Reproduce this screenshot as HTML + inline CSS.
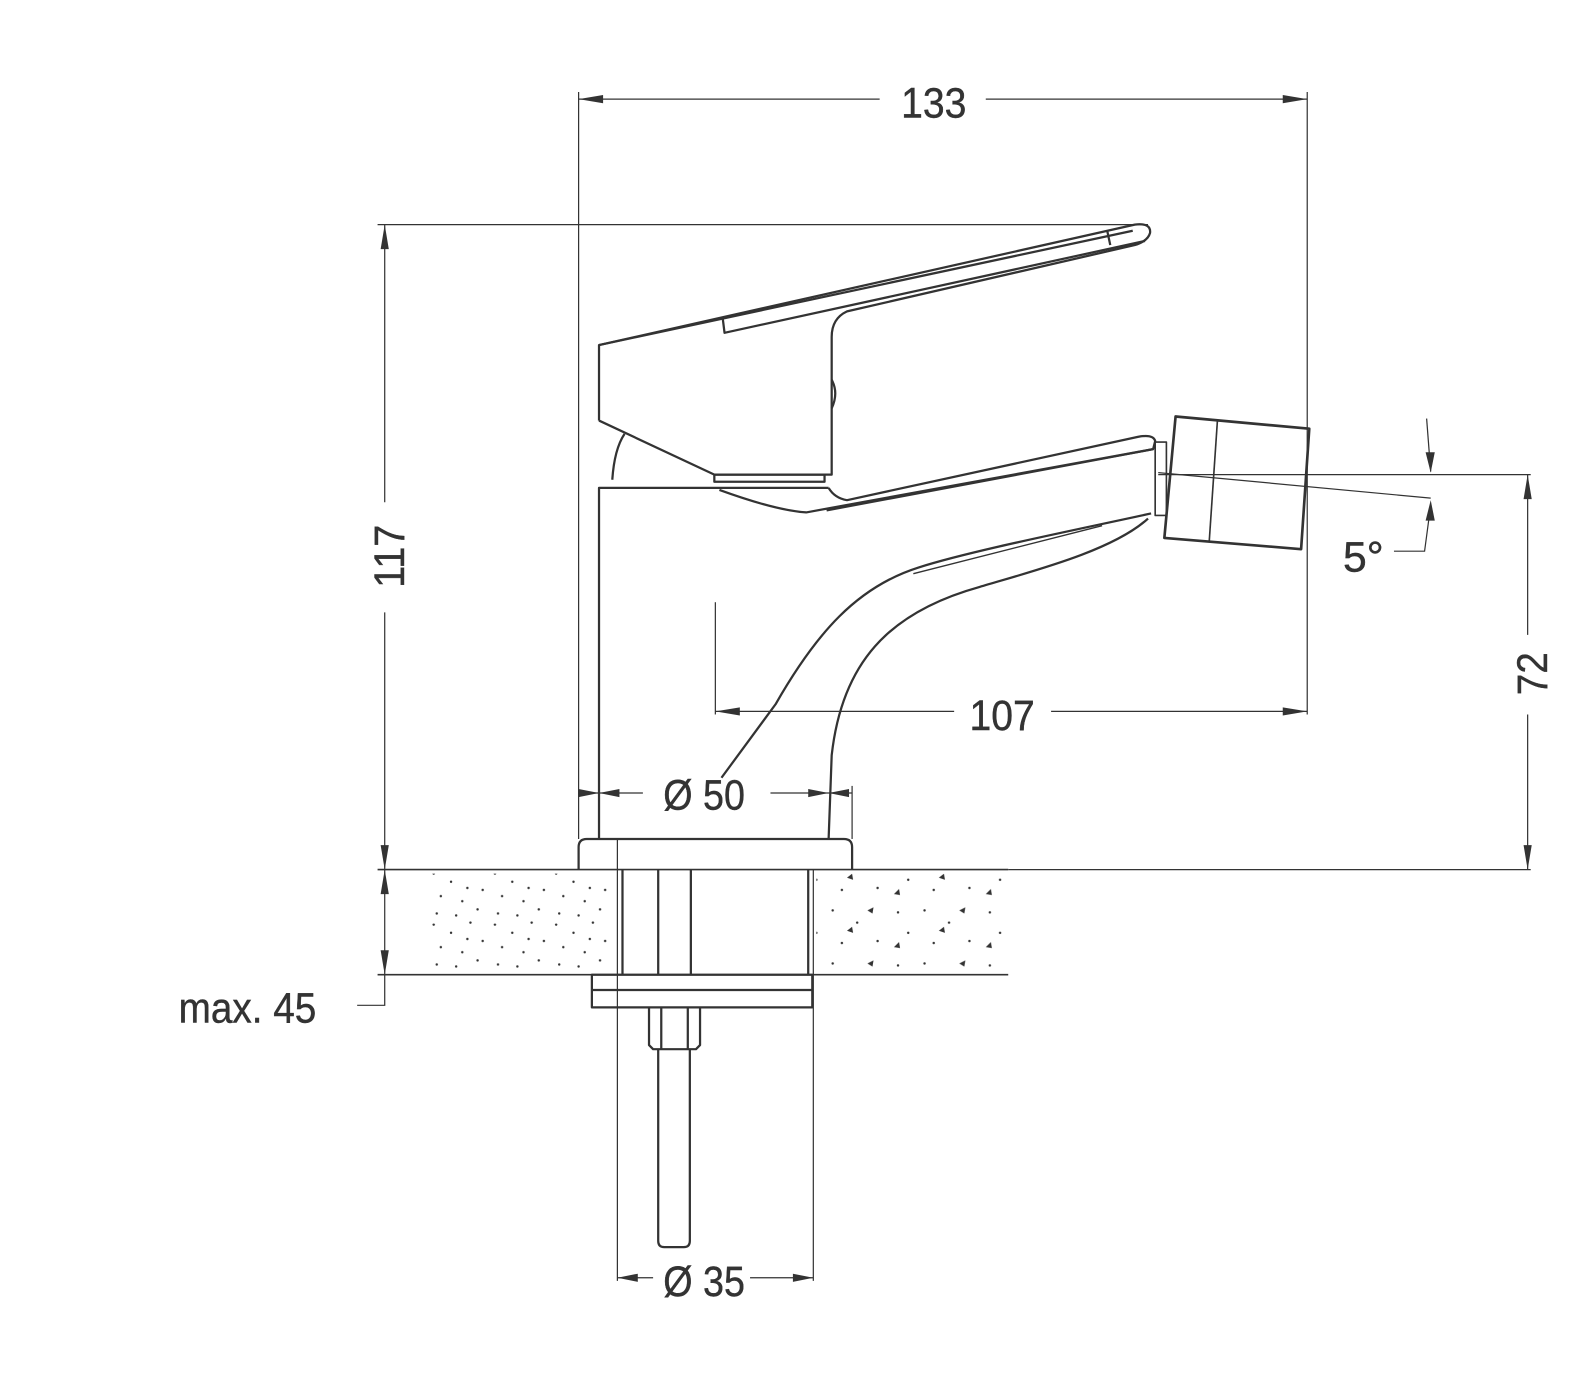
<!DOCTYPE html>
<html><head><meta charset="utf-8"><style>
html,body{margin:0;padding:0;background:#fff;}
svg{display:block;}
text{font-family:"Liberation Sans Narrow","Liberation Sans",sans-serif;fill:#333;stroke:#333;stroke-width:0.4;}
</style></head><body>
<svg width="1595" height="1382" viewBox="0 0 1563 1354" xmlns="http://www.w3.org/2000/svg">
<defs>
<pattern id="dots" width="60" height="50" patternUnits="userSpaceOnUse">
<g fill="#333">
<circle cx="5" cy="6" r="1.2"/><circle cx="22" cy="14" r="1.2"/><circle cx="41" cy="4" r="1.2"/><circle cx="53" cy="22" r="1.2"/>
<circle cx="12" cy="28" r="1.2"/><circle cx="33" cy="33" r="1.2"/><circle cx="48" cy="41" r="1.2"/><circle cx="8" cy="45" r="1.2"/>
<circle cx="27" cy="47" r="1.2"/><circle cx="38" cy="20" r="1.2"/>
</g></pattern>
<pattern id="tri" width="90" height="52" patternUnits="userSpaceOnUse">
<g fill="#333">
<circle cx="6" cy="8" r="1.2"/><circle cx="30" cy="20" r="1.2"/><circle cx="70" cy="10" r="1.2"/><circle cx="50" cy="38" r="1.2"/><circle cx="15" cy="40" r="1.2"/><circle cx="80" cy="30" r="1.2"/>
<path d="M40 8 l6 -3 l-1 6z"/><path d="M20 28 l5 -4 l1 6z"/><path d="M66 44 l5 -5 l1 6z"/>
</g></pattern>
</defs>
<g fill="none" stroke="#333" stroke-width="1.2">
<line x1="567" y1="90" x2="567" y2="822"/>
<line x1="1281" y1="90" x2="1281" y2="700"/>
<line x1="370" y1="220" x2="1125" y2="220"/>
<line x1="835" y1="770" x2="835" y2="822"/>
<line x1="701" y1="590" x2="701" y2="700"/>
<line x1="1135" y1="465" x2="1500" y2="465"/>
<line x1="988" y1="852" x2="1500" y2="852"/>
<line x1="567" y1="97" x2="862" y2="97"/><line x1="966" y1="97" x2="1281" y2="97"/>
<line x1="377" y1="220" x2="377" y2="492"/><line x1="377" y1="600" x2="377" y2="852"/>
<line x1="377" y1="852" x2="377" y2="955"/>
<polyline points="377,955 377,985 350,985"/>
<line x1="1497" y1="465" x2="1497" y2="622"/><line x1="1497" y1="700" x2="1497" y2="852"/>
<line x1="701" y1="697" x2="935" y2="697"/><line x1="1030" y1="697" x2="1281" y2="697"/>
<line x1="567" y1="777" x2="630" y2="777"/><line x1="755" y1="777" x2="835" y2="777"/>
<line x1="605" y1="822" x2="605" y2="1255"/><line x1="797" y1="852" x2="797" y2="1255"/>
<line x1="605" y1="1252" x2="640" y2="1252"/><line x1="735" y1="1252" x2="797" y2="1252"/>
<line x1="1135" y1="463" x2="1402" y2="488"/>
<line x1="1398" y1="410" x2="1402" y2="462"/>
<polyline points="1402,495 1396,540 1366,540"/>
<line x1="370" y1="852" x2="988" y2="852" stroke-width="1.6"/>
<line x1="370" y1="955" x2="988" y2="955" stroke-width="1.6"/>
</g>
<rect x="415" y="856" width="188" height="96" fill="url(#dots)"/>
<rect x="800" y="856" width="186" height="96" fill="url(#tri)"/>
<g fill="#333">
<path d="M567 97 l24 -4 v8z"/><path d="M1281 97 l-24 -4 v8z"/>
<path d="M377 220 l-4 24 h8z"/><path d="M377 852 l-4 -24 h8z"/>
<path d="M377 852 l-4 24 h8z"/><path d="M377 955 l-4 -24 h8z"/>
<path d="M1497 465 l-4 24 h8z"/><path d="M1497 852 l-4 -24 h8z"/>
<path d="M701 697 l24 -4 v8z"/><path d="M1281 697 l-24 -4 v8z"/>
<path d="M587 777 l-20 -4 v8z"/><path d="M587 777 l20 -4 v8z"/>
<path d="M812 777 l20 -4 v8z"/><path d="M812 777 l-20 -4 v8z"/>
<path d="M605 1252 l20 -4 v8z"/><path d="M797 1252 l-20 -4 v8z"/>
<path d="M1402 463 l-5 -20 h9z"/><path d="M1402 490 l-5 20 h9z"/>
</g>
<g fill="none" stroke="#333" stroke-width="2.2" stroke-linejoin="round">
<path d="M587 412 V338 L1112 220 Q1128 218 1127 228 Q1125 236 1112 240 L830 305 Q815 312 815 330 V465 H700 L587 412"/>
<path d="M587 338 L1110 226"/>
<path d="M708 310 L710 326 L1122 236"/>
<path d="M1085 226 L1088 240"/>
<path d="M815 372 Q822 385 815 400"/>
<rect x="700" y="465" width="108" height="7"/>
<path d="M600 470 Q602 440 612 425"/>
<path d="M587 822 V478 H812"/>
<path d="M812 478 Q818 488 830 490 L1115 428 Q1130 425 1132 432 L1130 440 L810 500"/>
<path d="M705 480 Q760 500 790 502 L1130 440"/>
<path d="M1128 503 C1050 520 950 540 900 556 C840 575 800 620 760 690 L707 762"/>
<path d="M1125 508 C1090 540 1010 560 960 575 C870 600 825 650 815 740 L812 822"/>
<path d="M1080 515 L895 562" stroke-width="1.4"/>
<rect x="1132" y="433" width="11" height="72" stroke-width="1.6"/>
<path d="M1152 408 L1283 420 L1275 538 L1141 527 Z" stroke-width="2.6"/>
<line x1="1193" y1="412" x2="1185" y2="530" stroke-width="1.6"/>
<path d="M567 852 V830 Q567 822 575 822 H827 Q835 822 835 830 V852"/>
<line x1="610" y1="852" x2="610" y2="955"/>
<line x1="645" y1="852" x2="645" y2="955"/>
<line x1="677" y1="852" x2="677" y2="955"/>
<line x1="792" y1="852" x2="792" y2="955"/>
<rect x="580" y="955" width="216" height="32"/>
<line x1="580" y1="970" x2="796" y2="970"/>
<path d="M636 987 V1024 L640 1028 H682 L686 1024 V987"/>
<line x1="648" y1="987" x2="648" y2="1028"/><line x1="674" y1="987" x2="674" y2="1028"/>
<path d="M645 1028 V1216 Q645 1222 651 1222 H670 Q676 1222 676 1216 V1028"/>
</g>
<g font-size="42">
<text x="915" y="115" text-anchor="middle" textLength="64" lengthAdjust="spacingAndGlyphs">133</text>
<text transform="translate(396,545) rotate(-90)" text-anchor="middle" textLength="62" lengthAdjust="spacingAndGlyphs">117</text>
<text transform="translate(1516,660) rotate(-90)" text-anchor="middle" textLength="42" lengthAdjust="spacingAndGlyphs">72</text>
<text x="982" y="715" text-anchor="middle" textLength="64" lengthAdjust="spacingAndGlyphs">107</text>
<text x="690" y="793" text-anchor="middle" textLength="80" lengthAdjust="spacingAndGlyphs">Ø 50</text>
<text x="690" y="1270" text-anchor="middle" textLength="80" lengthAdjust="spacingAndGlyphs">Ø 35</text>
<text x="1316" y="560" textLength="40" lengthAdjust="spacingAndGlyphs">5°</text>
<text x="175" y="1002" textLength="135" lengthAdjust="spacingAndGlyphs">max. 45</text>
</g>
</svg>
</body></html>
